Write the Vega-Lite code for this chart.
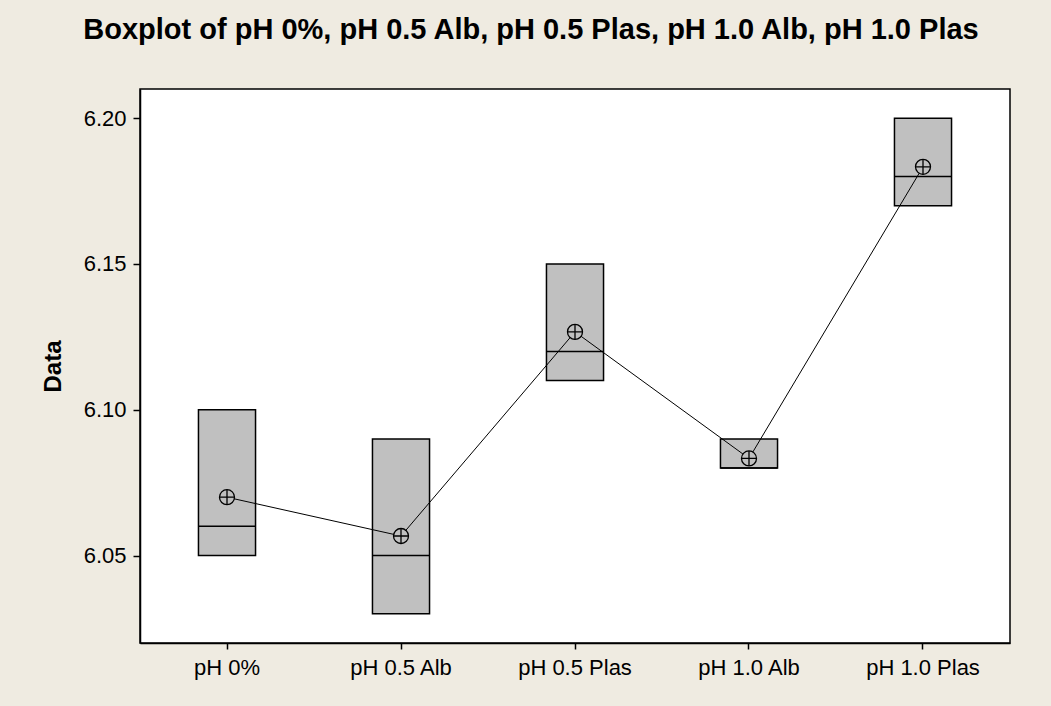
{
  "$schema": "https://vega.github.io/schema/vega-lite/v6.json",
  "width": 870,
  "height": 554,
  "autosize": {"type": "none"},
  "padding": {"left": 140, "top": 89, "right": 41, "bottom": 63},
  "background": "#EFEBE1",
  "title": {
    "text": "Boxplot of pH 0%, pH 0.5 Alb, pH 0.5 Plas, pH 1.0 Alb, pH 1.0 Plas",
    "font": "Liberation Sans",
    "fontSize": 29,
    "fontWeight": "bold",
    "color": "#000000",
    "anchor": "middle",
    "frame": "group",
    "dx": -44,
    "offset": 21,
    "baseline": "alphabetic"
  },
  "config": {
    "view": {"fill": "#FFFFFF", "stroke": "#000000", "strokeWidth": 1.5},
    "axis": {
      "grid": false,
      "domainColor": "#000000",
      "domainWidth": 1.5,
      "tickColor": "#000000",
      "tickWidth": 1.5,
      "labelFont": "Liberation Sans",
      "labelFontSize": 22,
      "labelColor": "#000000",
      "titleFont": "Liberation Sans",
      "titleFontSize": 24,
      "titleFontWeight": "bold",
      "titleColor": "#000000"
    }
  },
  "data": {
    "values": [
      {"group": "pH 0%", "q1": 6.05, "median": 6.06, "q3": 6.10, "mean": 6.07},
      {"group": "pH 0.5 Alb", "q1": 6.03, "median": 6.05, "q3": 6.09, "mean": 6.0567},
      {"group": "pH 0.5 Plas", "q1": 6.11, "median": 6.12, "q3": 6.15, "mean": 6.1267},
      {"group": "pH 1.0 Alb", "q1": 6.08, "median": 6.08, "q3": 6.09, "mean": 6.0833},
      {"group": "pH 1.0 Plas", "q1": 6.17, "median": 6.18, "q3": 6.20, "mean": 6.1833}
    ]
  },
  "encoding": {
    "x": {
      "field": "group",
      "type": "nominal",
      "sort": null,
      "scale": {"type": "band", "paddingInner": 0.672, "paddingOuter": 0.336},
      "axis": {"title": null, "labelAngle": 0, "tickSize": 6, "labelPadding": 8}
    }
  },
  "layer": [
    {
      "mark": {"type": "bar", "fill": "#C0C0C0", "stroke": "#000000", "strokeWidth": 1.5},
      "encoding": {
        "y": {
          "field": "q3",
          "type": "quantitative",
          "title": "Data",
          "scale": {"domain": [6.02, 6.21], "nice": false, "zero": false},
          "axis": {"values": [6.05, 6.10, 6.15, 6.20], "format": ".2f", "tickSize": 7, "labelPadding": 7, "titlePadding": 18}
        },
        "y2": {"field": "q1"}
      }
    },
    {
      "mark": {"type": "tick", "color": "#000000", "size": 57, "thickness": 1.5, "opacity": 1},
      "encoding": {"y": {"field": "median", "type": "quantitative"}}
    },
    {
      "mark": {"type": "line", "color": "#000000", "strokeWidth": 1},
      "encoding": {"y": {"field": "mean", "type": "quantitative"}}
    },
    {
      "mark": {"type": "point", "shape": "circle", "filled": true, "fill": "#C0C0C0", "stroke": "#000000", "strokeWidth": 1.3, "size": 225, "opacity": 1},
      "encoding": {"y": {"field": "mean", "type": "quantitative"}}
    },
    {
      "mark": {"type": "point", "shape": "M-1,0L1,0M0,-1L0,1", "filled": false, "stroke": "#000000", "strokeWidth": 1.3, "size": 225, "opacity": 1},
      "encoding": {"y": {"field": "mean", "type": "quantitative"}}
    }
  ]
}
